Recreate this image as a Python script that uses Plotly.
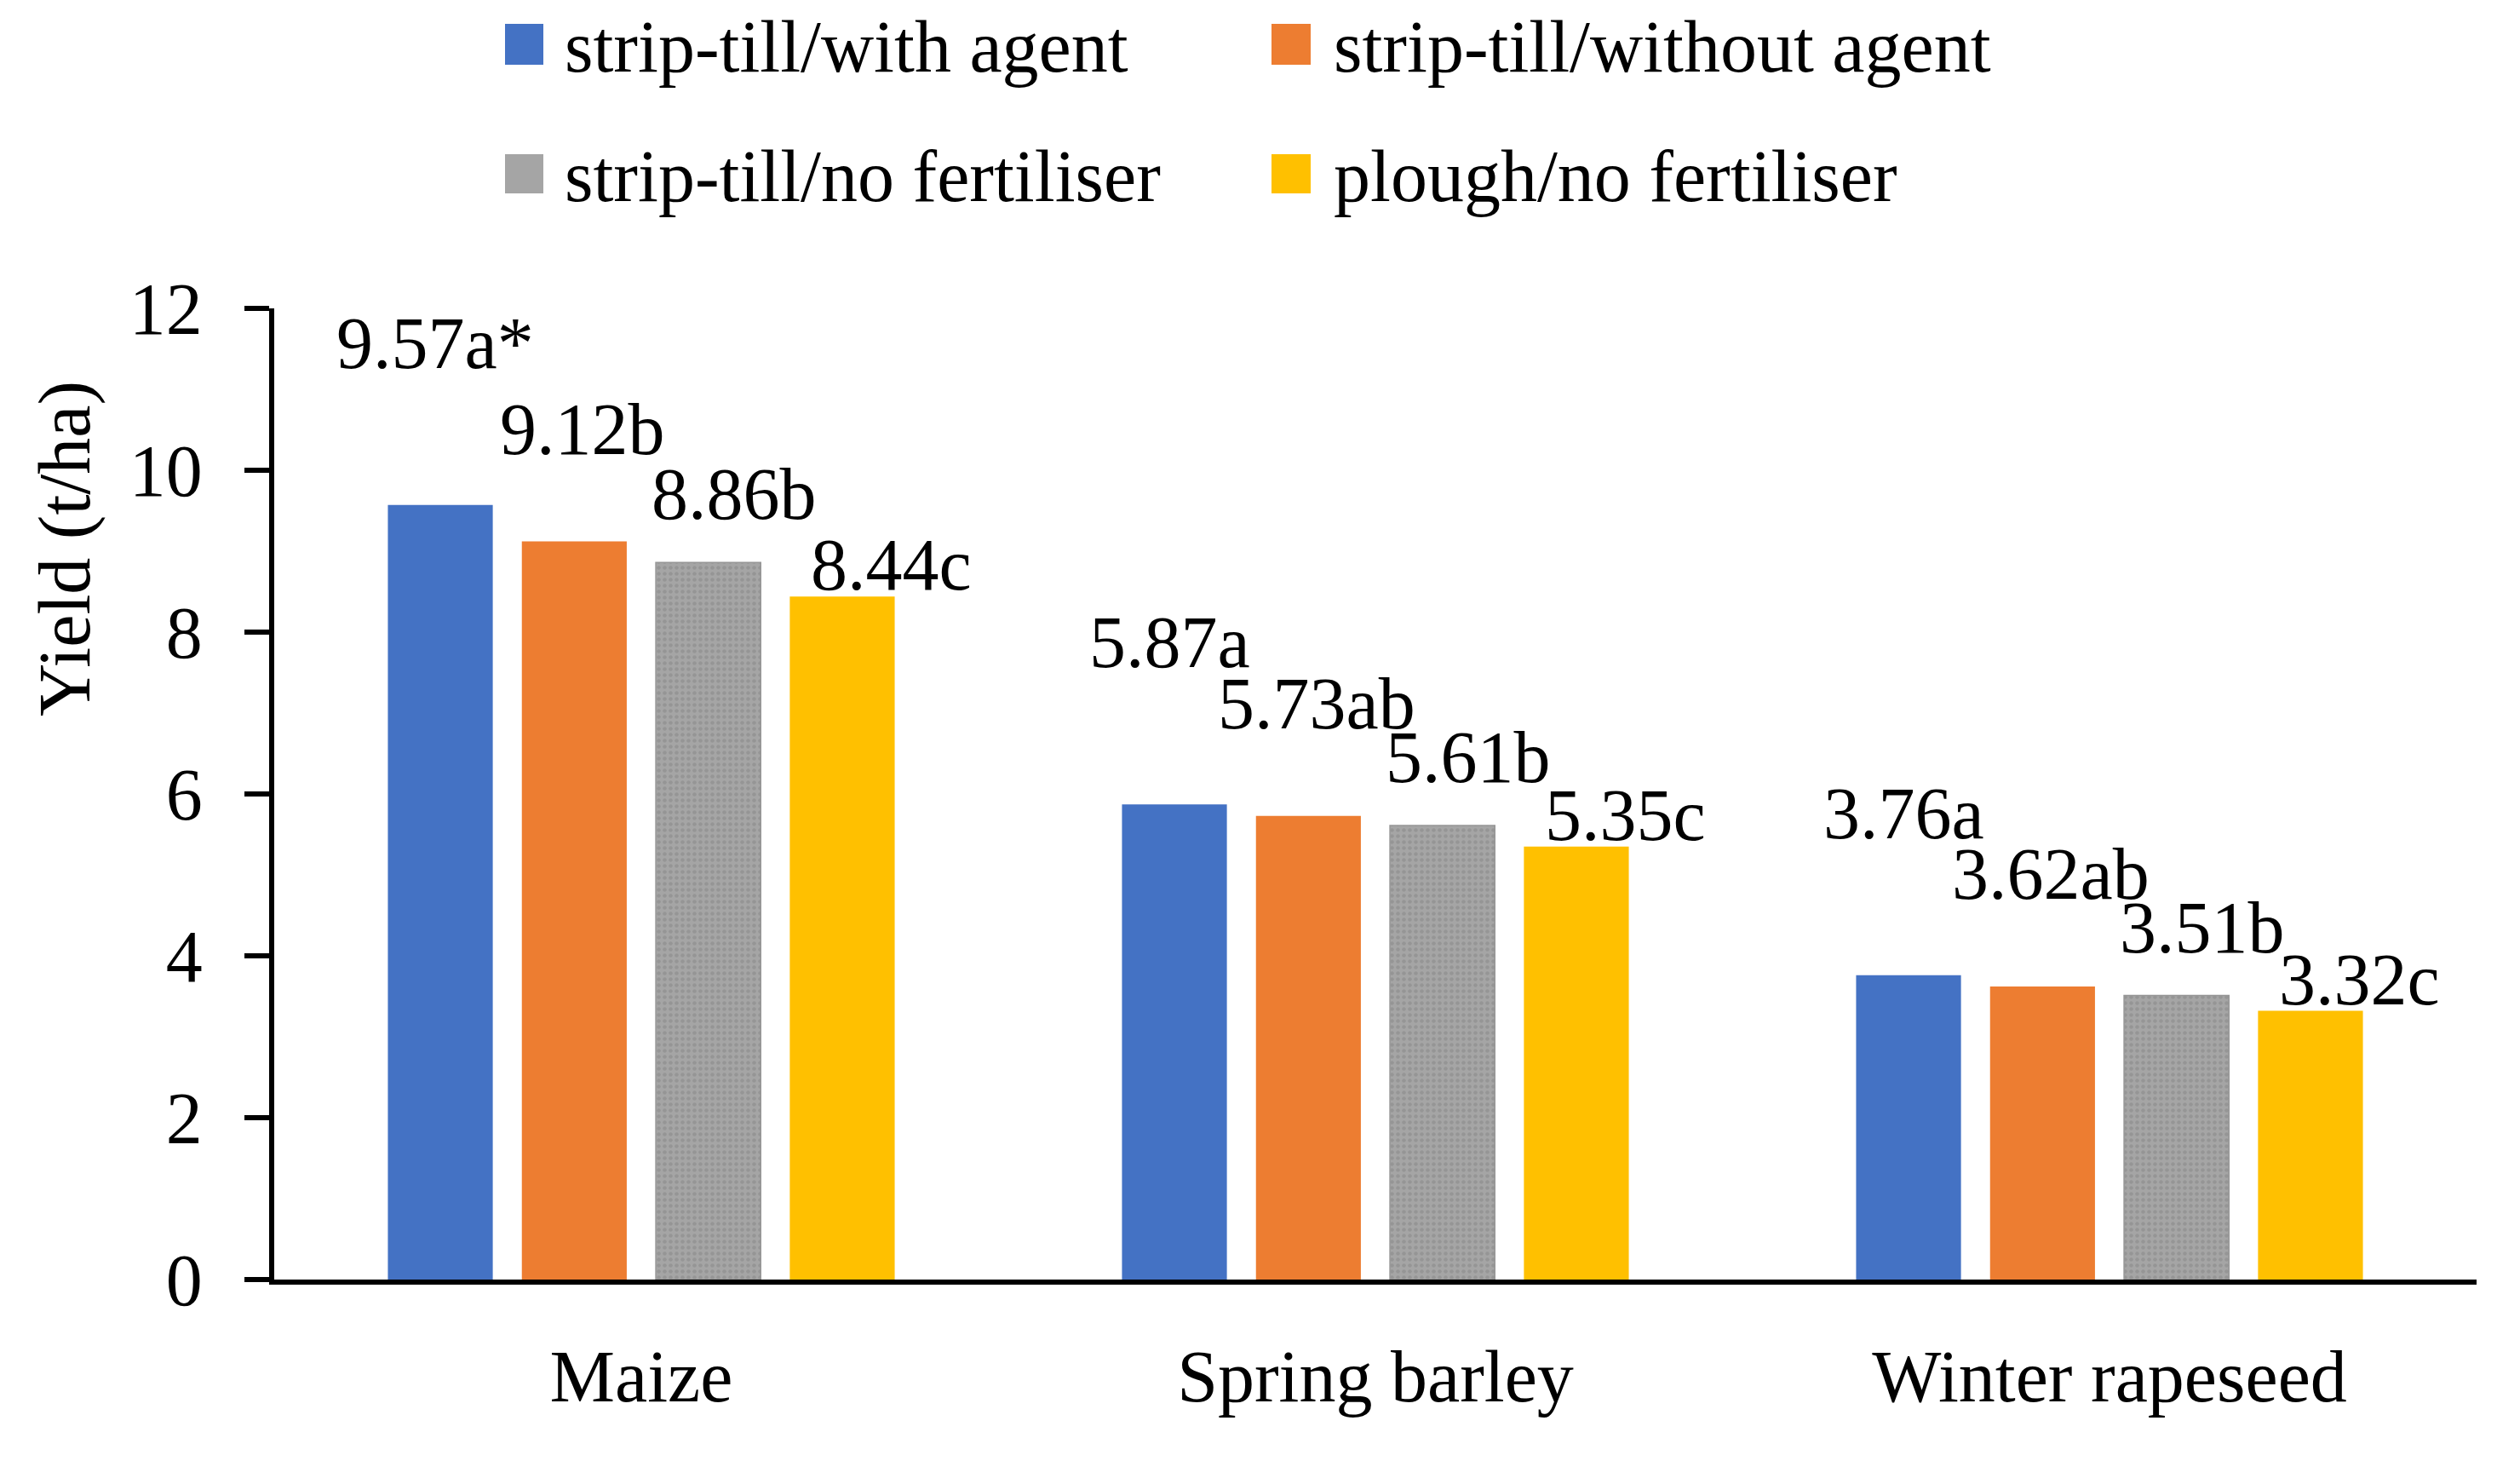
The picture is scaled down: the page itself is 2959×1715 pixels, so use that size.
import plotly.graph_objects as go

# ---------------- data ----------------
categories = ["Maize", "Spring barley", "Winter rapeseed"]
series_names = [
    "strip-till/with agent",
    "strip-till/without agent",
    "strip-till/no fertiliser",
    "plough/no fertiliser",
]
with_agent = [9.57, 5.87, 3.76]
without_agent = [9.12, 5.73, 3.62]
no_fertiliser = [8.86, 5.61, 3.51]
plough_no_fertiliser = [8.44, 5.35, 3.32]

with_agent_letters = ["a*", "a", "a"]
without_agent_letters = ["b", "ab", "ab"]
no_fertiliser_letters = ["b", "b", "b"]
plough_no_fertiliser_letters = ["c", "c", "c"]

y_ticks = [0, 2, 4, 6, 8, 10, 12]
y_title = "Yield (t/ha)"

# ---------------- style ----------------
W, H = 2959, 1715
L, R, T, B = 314, 59, 354, 221
PW, PH = W - L - R, H - T - B
FONT = "Liberation Serif, Times New Roman, serif"
FS = 86
BARGAP = 0.27
BARGROUPGAP = 0.217
colors = ["#4472C4", "#ED7D31", "#A5A5A5", "#FFC000"]
label_dx = [-6, 10, 30, 58]        # px shift of the value labels
label_dy = [190, 132, 80, 37]      # px above the bar top

values = [with_agent, without_agent, no_fertiliser, plough_no_fertiliser]
letters = [with_agent_letters, without_agent_letters,
           no_fertiliser_letters, plough_no_fertiliser_letters]

fig = go.Figure()
for si, (name, vals) in enumerate(zip(series_names, values)):
    marker = dict(color=colors[si], line=dict(width=0))
    if si == 2:
        marker["pattern"] = dict(shape=".", fillmode="overlay",
                                 fgcolor="#858585", size=7, solidity=0.35)
        marker["line"] = dict(width=1.5, color="#969696")
    fig.add_trace(go.Bar(x=categories, y=vals, name=name, marker=marker,
                         showlegend=False, hoverinfo="x+y+name"))

annotations = []
slot = (1 - BARGAP) / 4
for si, vals in enumerate(values):
    for ci, v in enumerate(vals):
        annotations.append(dict(
            x=ci + (si - 1.5) * slot, xref="x", y=v, yref="y",
            text=f"{v:.2f}{letters[si][ci]}", showarrow=False,
            xanchor="center", yanchor="middle",
            xshift=label_dx[si], yshift=label_dy[si],
            font=dict(family=FONT, size=FS, color="black")))


def px_x(p):
    return (p - L) / PW


def px_y(p):
    return (H - B - p) / PH


# y-axis title
annotations.append(dict(
    x=px_x(68), xref="paper", y=px_y(636), yref="paper", text=y_title,
    textangle=-90, showarrow=False, xanchor="center", yanchor="middle",
    font=dict(family=FONT, size=FS, color="black")))

# legend (two rows x two columns)
shapes = []
legend_cols = [(585, 630, 653), (1485, 1531, 1556)]
legend_rows = [(20, 68), (173, 219)]
for si, name in enumerate(series_names):
    r, c = divmod(si, 2)
    x0, x1, tx = legend_cols[c]
    y0, y1 = legend_rows[r]
    shapes.append(dict(type="rect", xref="paper", yref="paper",
                       x0=px_x(x0), x1=px_x(x1), y0=px_y(y1), y1=px_y(y0),
                       fillcolor=colors[si], line=dict(width=0)))
    annotations.append(dict(
        x=px_x(tx), xref="paper", y=px_y((y0 + y1) / 2 + 3), yref="paper",
        text=name, showarrow=False, xanchor="left", yanchor="middle",
        font=dict(family=FONT, size=FS, color="black")))

fig.update_layout(
    width=W, height=H,
    margin=dict(l=L, r=R, t=T, b=B, pad=0),
    paper_bgcolor="white", plot_bgcolor="white",
    barmode="group", bargap=BARGAP, bargroupgap=BARGROUPGAP,
    font=dict(family=FONT, size=FS, color="black"),
    annotations=annotations, shapes=shapes,
    showlegend=False,
)
fig.update_xaxes(showline=True, linecolor="black", linewidth=6,
                 ticks="", showgrid=False, zeroline=False,
                 ticklabelstandoff=34,
                 tickfont=dict(family=FONT, size=FS, color="black"))
fig.update_yaxes(range=[0, 12], tickvals=y_ticks, ticks="outside",
                 ticklen=29, tickwidth=6, tickcolor="black",
                 showline=True, linecolor="black", linewidth=6,
                 showgrid=False, zeroline=False, ticklabelstandoff=32,
                 tickfont=dict(family=FONT, size=FS, color="black"))

fig.write_html("out.html")
